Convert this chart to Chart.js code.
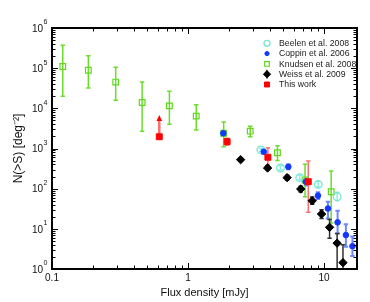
<!DOCTYPE html>
<html>
<head>
<meta charset="utf-8">
<script src="https://cdn.jsdelivr.net/npm/chart.js@4.4.1/dist/chart.umd.min.js"></script>
<style>
  html, body { margin: 0; padding: 0; background: #fff; }
</style>
</head>
<body>
<canvas id="chart" width="370" height="302"></canvas>
<script>
/* Cumulative number counts N(>S) */

// tick labels
const xTickValues = [0.1, 1, 10];
const yTickExponents = [0, 1, 2, 3, 4, 5, 6];

// Beelen et al. 2008
const beelenS = [3.44, 4.79, 6.64, 9.08, 12.5];
const beelenN = [920, 327, 188, 128, 63];
const beelenLo = [830, 290, 165, 110, 50];
const beelenHi = [1020, 370, 215, 150, 81];

// Coppin et al. 2006
const coppinS = [1.82, 3.61, 5.47, 7.35, 9.04, 10.7, 12.6, 14.5, 16.2];
const coppinN = [2400, 830, 352, 149, 67, 32, 14.5, 7.0, 3.7];
const coppinLo = [2100, 740, 305, 120, 55, 18, 7.7, 3.6, 2.1];
const coppinHi = [2700, 930, 400, 180, 82, 47, 28, 13, 6.4];

// Knudsen et al. 2008
const knudsenS = [0.12, 0.185, 0.294, 0.46, 0.73, 1.15, 1.83, 2.87, 4.55, 7.26, 11.3];
const knudsenN = [110000, 89000, 45000, 14000, 11500, 6400, 2400, 2700, 785, 164, 84];
const knudsenLo = [20000, 32000, 16000, 2700, 4000, 2900, 1100, 1960, 500, 63, 14];
const knudsenHi = [370000, 204000, 105000, 45000, 26500, 12300, 4600, 3570, 1170, 405, 275];

// Weiss et al. 2009
const weissS = [2.44, 3.85, 5.36, 6.75, 8.2, 9.6, 11.0, 12.5, 13.8];
const weissN = [527, 327, 188, 98, 50, 23.4, 10.9, 4.4, 1.44];
const weissLo = [480, 290, 165, 83, 41, 18, 5.8, 0.3, 0.3];
const weissHi = [580, 370, 215, 115, 62, 30, 17, 7.7, 4];

// This work
const thisS = [0.615, 1.94, 3.87, 7.67];
const thisN = [1960, 1480, 604, 149];
const thisLo = [null, 1200, 390, 26];
const thisHi = [null, 1800, 1050, 490];
const thisLimit = [6800, null, null, null];

const FONT = '"Liberation Sans", Arial, Helvetica, sans-serif';
Chart.defaults.font.family = FONT;
Chart.defaults.color = '#111';

function points(xs, ys) {
  return xs.map((v, i) => ({ x: v, y: ys[i] }));
}

function logTicks(scale) {
  const out = [];
  const e0 = Math.floor(Math.log10(scale.min)) - 1;
  const e1 = Math.ceil(Math.log10(scale.max)) + 1;
  for (let e = e0; e <= e1; e++) {
    for (let m = 1; m <= 9; m++) {
      const v = m * Math.pow(10, e);
      if (v >= scale.min * 0.999 && v <= scale.max * 1.001) out.push({ v, major: m === 1 });
    }
  }
  return out;
}

const errorBars = {
  id: 'errorBars',
  beforeDatasetsDraw(chart) {
    const { ctx, chartArea: a, scales: { x, y } } = chart;
    ctx.save();
    ctx.beginPath();
    ctx.rect(a.left, a.top, a.right - a.left, a.bottom - a.top);
    ctx.clip();

    chart.data.datasets.forEach(ds => {
      if (ds.errLo) {
        ctx.strokeStyle = ds.errColor;
        ctx.lineWidth = ds.errWidth || 1.5;
        ds.data.forEach((p, i) => {
          const lo = ds.errLo[i], hi = ds.errHi[i];
          if (lo == null || hi == null) return;
          const px = x.getPixelForValue(p.x);
          const y1 = y.getPixelForValue(lo);
          const y2 = y.getPixelForValue(hi);
          ctx.beginPath();
          ctx.moveTo(px, y1); ctx.lineTo(px, y2);
          ctx.moveTo(px - 2.2, y1); ctx.lineTo(px + 2.2, y1);
          ctx.moveTo(px - 2.2, y2); ctx.lineTo(px + 2.2, y2);
          ctx.stroke();
        });
      }

      // lower-limit arrows
      if (ds.limit) {
        ds.data.forEach((p, i) => {
          const lim = ds.limit[i];
          if (lim == null) return;
          const px = x.getPixelForValue(p.x);
          const py = y.getPixelForValue(p.y);
          const ty = y.getPixelForValue(lim);
          ctx.strokeStyle = ds.errColor;
          ctx.lineWidth = 2.5;
          ctx.beginPath();
          ctx.moveTo(px, py);
          ctx.lineTo(px, ty + 5);
          ctx.stroke();
          ctx.fillStyle = ds.borderColor;
          ctx.beginPath();
          ctx.moveTo(px, ty);
          ctx.lineTo(px - 2.8, ty + 6);
          ctx.lineTo(px + 2.8, ty + 6);
          ctx.closePath();
          ctx.fill();
        });
      }
    });
    ctx.restore();
  }
};

const frameAndTicks = {
  id: 'frameAndTicks',
  afterDraw(chart) {
    const { ctx, chartArea: a, scales: { x, y } } = chart;
    ctx.save();
    ctx.strokeStyle = '#000';

    ctx.lineWidth = 1;
    ctx.beginPath();
    logTicks(x).forEach(t => {
      const px = Math.round(x.getPixelForValue(t.v)) + 0.5;
      const len = t.major ? 6 : 3.5;
      ctx.moveTo(px, a.bottom); ctx.lineTo(px, a.bottom - len);
      ctx.moveTo(px, a.top); ctx.lineTo(px, a.top + len);
    });
    logTicks(y).forEach(t => {
      const py = Math.round(y.getPixelForValue(t.v)) + 0.5;
      const len = t.major ? 6 : 3.5;
      ctx.moveTo(a.left, py); ctx.lineTo(a.left + len, py);
      ctx.moveTo(a.right, py); ctx.lineTo(a.right - len, py);
    });
    ctx.stroke();

    ctx.lineWidth = 2;
    ctx.strokeRect(a.left, a.top, a.right - a.left, a.bottom - a.top);

    // y tick labels as 10 with raised exponent
    ctx.fillStyle = '#111';
    ctx.textBaseline = 'middle';
    yTickExponents.forEach(e => {
      const py = y.getPixelForValue(Math.pow(10, e));
      ctx.font = '10px ' + FONT;
      ctx.textAlign = 'right';
      ctx.fillText('10', a.left - 9, py + 1);
      ctx.font = '7px ' + FONT;
      ctx.textAlign = 'left';
      ctx.fillText(String(e), a.left - 8.5, py - 5.5);
    });
    ctx.restore();
  }
};

const insideLegend = {
  id: 'insideLegend',
  afterDraw(chart) {
    const { ctx, chartArea: a } = chart;
    ctx.save();
    chart.data.datasets.forEach((ds, i) => {
      const sx = a.right - 90;
      const sy = a.top + 15.3 + i * 10.3;
      if (ds.legendBar) {
        ctx.strokeStyle = ds.errColor;
        ctx.lineWidth = 1.2;
        ctx.beginPath();
        ctx.moveTo(sx, sy - 4.5);
        ctx.lineTo(sx, sy + 4.5);
        ctx.stroke();
      }
      ctx.fillStyle = ds.backgroundColor;
      ctx.strokeStyle = ds.borderColor;
      ctx.lineWidth = ds.pointBorderWidth;
      Chart.helpers.drawPoint(ctx, {
        pointStyle: ds.pointStyle,
        radius: ds.legendRadius,
        borderWidth: ds.pointBorderWidth,
        rotation: 0
      }, sx, sy);
      ctx.fillStyle = '#222';
      ctx.font = '8.7px ' + FONT;
      ctx.textAlign = 'left';
      ctx.textBaseline = 'middle';
      ctx.fillText(ds.label, sx + 12, sy + 0.5);
    });
    ctx.restore();
  }
};

function series(label, xs, ys, style) {
  return Object.assign({
    label,
    data: points(xs, ys),
    showLine: false,
    pointHoverRadius: 0
  }, style);
}

const datasets = [
  series('Beelen et al. 2008', beelenS, beelenN, {
    pointStyle: 'circle', pointRadius: 3.8, pointBorderWidth: 1.3, legendRadius: 3,
    borderColor: '#74e6d2', backgroundColor: 'rgba(255,255,255,0)',
    errLo: beelenLo, errHi: beelenHi, errColor: '#8eeedd', order: 2
  }),
  series('Coppin et al. 2006', coppinS, coppinN, {
    pointStyle: 'circle', pointRadius: 2.8, pointBorderWidth: 1, legendRadius: 2.1,
    borderColor: '#1438ff', backgroundColor: '#1438ff',
    errLo: coppinLo, errHi: coppinHi, errColor: '#6f88ff', errWidth: 2, order: 1
  }),
  series('Knudsen et al. 2008', knudsenS, knudsenN, {
    pointStyle: 'rect', pointRadius: 4, pointBorderWidth: 1.2, legendRadius: 3.3,
    borderColor: '#5fd81c', backgroundColor: 'rgba(255,255,255,0)',
    errLo: knudsenLo, errHi: knudsenHi, errColor: '#6ade2a', order: 4
  }),
  series('Weiss et al. 2009', weissS, weissN, {
    pointStyle: 'rectRot', pointRadius: 4.2, pointBorderWidth: 1, legendRadius: 3.6,
    borderColor: '#000', backgroundColor: '#000', legendBar: true,
    errLo: weissLo, errHi: weissHi, errColor: '#333', order: 3
  }),
  series('This work', thisS, thisN, {
    pointStyle: 'rect', pointRadius: 4.2, pointBorderWidth: 1, legendRadius: 3.5,
    borderColor: '#ff0000', backgroundColor: '#ff0000',
    errLo: thisLo, errHi: thisHi, errColor: '#ff6e6e', limit: thisLimit, order: 0
  })
];

new Chart(document.getElementById('chart'), {
  type: 'scatter',
  data: { datasets },
  options: {
    responsive: false,
    animation: false,
    events: [],
    layout: { padding: { top: 28, right: 13, left: 0, bottom: 0 } },
    plugins: {
      legend: { display: false },
      tooltip: { enabled: false }
    },
    scales: {
      x: {
        type: 'logarithmic',
        min: 0.1,
        max: 17.5,
        afterBuildTicks: s => { s.ticks = xTickValues.map(v => ({ value: v })); },
        afterFit: s => { s.height = 33; },
        grid: { display: false, drawTicks: false },
        border: { display: false },
        ticks: {
          autoSkip: false,
          maxRotation: 0,
          padding: 3,
          font: { size: 10 },
          color: '#111',
          callback: v => String(v)
        },
        title: {
          display: true,
          text: 'Flux density [mJy]',
          font: { size: 11 },
          color: '#111',
          padding: { top: 0, bottom: 2 }
        }
      },
      y: {
        type: 'logarithmic',
        min: 1,
        max: 1e6,
        afterFit: s => { s.width = 52; },
        grid: { display: false, drawTicks: false },
        border: { display: false },
        ticks: { display: false },
        title: {
          display: true,
          text: 'N(>S) [deg\u207B\u00B2]',
          font: { size: 12 },
          color: '#111',
          padding: { top: 11, bottom: 0 }
        }
      }
    }
  },
  plugins: [errorBars, frameAndTicks, insideLegend]
});
</script>
</body>
</html>
